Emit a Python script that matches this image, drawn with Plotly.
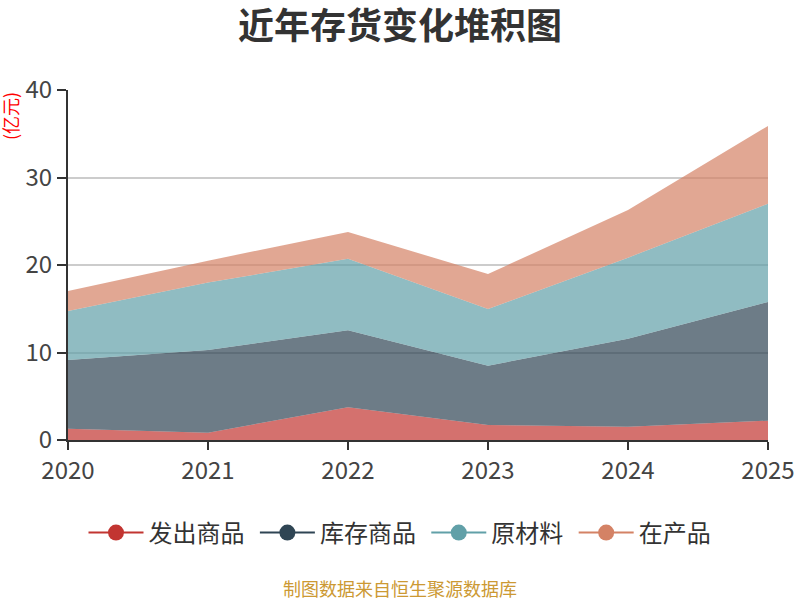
import plotly.graph_objects as go

years = [2020, 2021, 2022, 2023, 2024, 2025]
series_names = ["发出商品", "库存商品", "原材料", "在产品"]
fachu = [1.30, 0.84, 3.73, 1.71, 1.52, 2.21]
kucun = [7.84, 9.45, 8.80, 6.79, 10.06, 13.56]
yuancailiao = [5.60, 7.71, 8.17, 6.47, 9.26, 11.23]
zaichan = [2.29, 2.50, 3.07, 4.00, 5.45, 8.89]
colors = ["#c23531", "#2f4554", "#61a0a8", "#d48265"]
fills = ["rgba(194,53,49,0.7)", "rgba(47,69,84,0.7)", "rgba(97,160,168,0.7)", "rgba(212,130,101,0.7)"]

FONT = "Noto Sans CJK SC, Microsoft YaHei, sans-serif"

fig = go.Figure()
for name, vals, c, f in zip(series_names, [fachu, kucun, yuancailiao, zaichan], colors, fills):
    fig.add_trace(go.Scatter(
        x=years, y=vals, name=name, mode="lines", stackgroup="one",
        line=dict(width=0, color=c), fillcolor=f, showlegend=False,
        hoverinfo="x+y+name"))
for i, (name, c) in enumerate(zip(series_names, colors)):
    label = name + ("\u00a0" if i < len(series_names) - 1 else "")
    fig.add_trace(go.Scatter(
        x=[None], y=[None], name=label, mode="lines+markers",
        line=dict(color=c, width=2), marker=dict(color=c, size=21),
        showlegend=True))

fig.update_layout(
    width=800, height=600,
    margin=dict(l=68, r=32, t=90, b=160, autoexpand=False),
    paper_bgcolor="white", plot_bgcolor="white",
    font=dict(family=FONT, color="#333333"),
    title=dict(text="<b>近年存货变化堆积图</b>", x=0.5, xanchor="center",
               y=(600 - 26) / 600, yanchor="middle", font=dict(size=36, color="#333333", family=FONT)),
    xaxis=dict(range=[2020, 2025], tickmode="array", tickvals=years,
               ticktext=[str(y) for y in years], automargin=False,
               showline=True, linecolor="#333333", linewidth=2,
               ticks="outside", ticklen=8, tickwidth=2, tickcolor="#333333",
               showgrid=False, zeroline=False,
               tickfont=dict(size=24, color="#444444", family=FONT)),
    yaxis=dict(range=[0, 40], tickvals=[0, 10, 20, 30, 40], automargin=False,
               showline=True, linecolor="#333333", linewidth=2,
               ticks="outside", ticklen=9, tickwidth=2, tickcolor="#333333",
               showgrid=True, gridcolor="#cccccc", gridwidth=1.5, zeroline=False,
               tickfont=dict(size=24, color="#444444", family=FONT)),
    legend=dict(orientation="h", x=0.5, xref="container", xanchor="center",
                y=(600 - 533) / 600, yref="container",
                yanchor="middle", font=dict(size=24, color="#333333", family=FONT),
                itemwidth=55, traceorder="normal"),
    showlegend=True,
)

fig.add_annotation(text="(亿元)", xref="paper", yref="paper", x=(10 - 68) / 700, y=1.0,
                   showarrow=False, textangle=-90, xanchor="center", yanchor="top",
                   font=dict(size=18, color="#ff0000", family=FONT))
fig.add_annotation(text="制图数据来自恒生聚源数据库", xref="paper", yref="paper",
                   x=(400 - 68) / 700, y=(440 - 588) / 350,
                   showarrow=False, xanchor="center", yanchor="middle",
                   font=dict(size=18, color="#cc9933", family=FONT))

fig.write_html("out.html")
